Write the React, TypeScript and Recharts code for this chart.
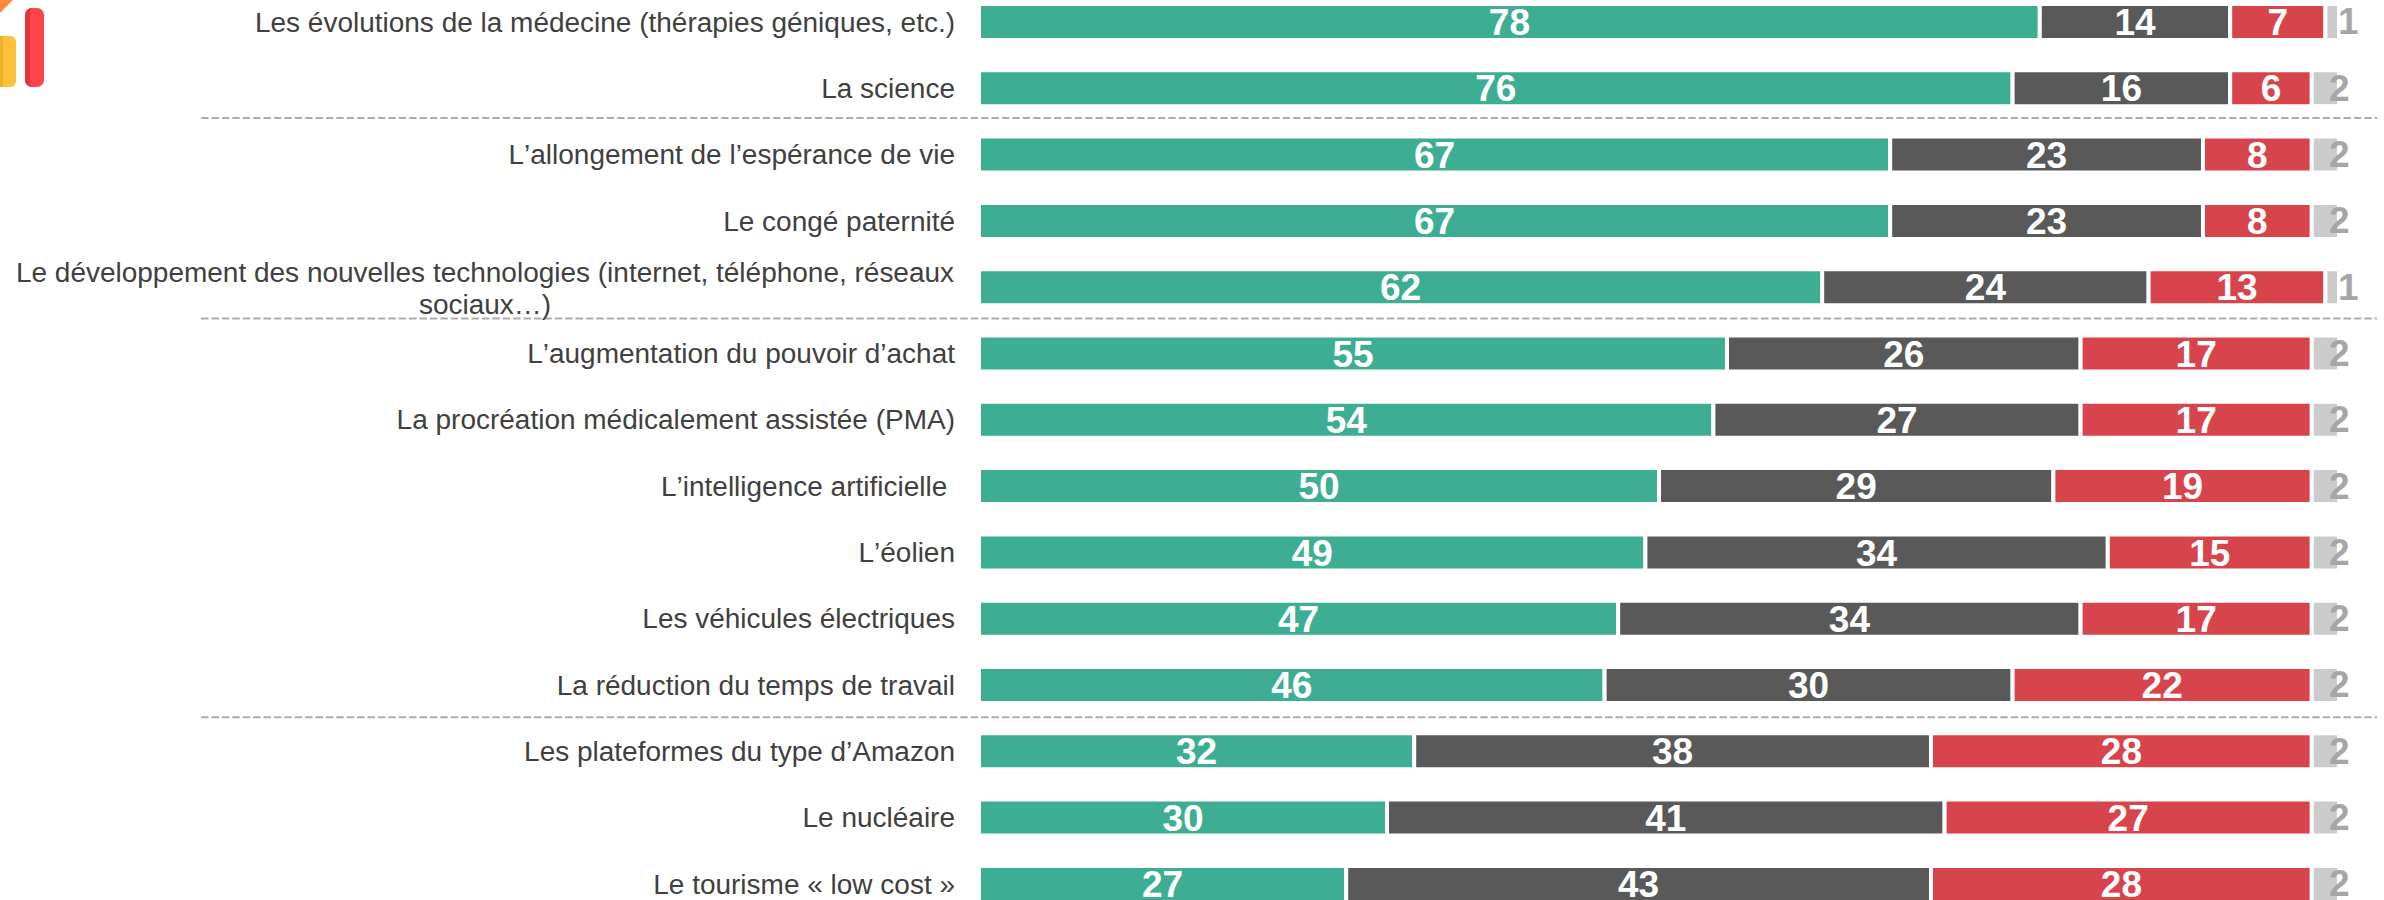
import { Bar, BarChart, LabelList, ReferenceLine, XAxis, YAxis } from "recharts";

const categories = [
  "Les évolutions de la médecine (thérapies géniques, etc.)",
  "La science",
  "L’allongement de l’espérance de vie",
  "Le congé paternité",
  "Le développement des nouvelles technologies (internet, téléphone, réseaux sociaux…)",
  "L’augmentation du pouvoir d’achat",
  "La procréation médicalement assistée (PMA)",
  "L’intelligence artificielle ",
  "L’éolien",
  "Les véhicules électriques",
  "La réduction du temps de travail",
  "Les plateformes du type d’Amazon",
  "Le nucléaire",
  "Le tourisme « low cost »",
];
const positive = [78, 76, 67, 67, 62, 55, 54, 50, 49, 47, 46, 32, 30, 27];
const neutral = [14, 16, 23, 23, 24, 26, 27, 29, 34, 34, 30, 38, 41, 43];
const negative = [7, 6, 8, 8, 13, 17, 17, 19, 15, 17, 22, 28, 27, 28];
const noAnswer = [1, 2, 2, 2, 1, 2, 2, 2, 2, 2, 2, 2, 2, 2];

// groups are separated after these rows
const separatorRows = ["La science", categories[4], categories[10]];

const rows = categories.map((name, i) => ({
  name,
  positive: positive[i],
  neutral: neutral[i],
  negative: negative[i],
  noAnswer: noAnswer[i],
}));

const FONT = '"Liberation Sans", Arial, sans-serif';
const MAX_LINE = 76;

function wrapLabel(label: string) {
  const lines: string[] = [];
  let line = "";
  for (const word of label.split(" ")) {
    const next = line ? line + " " + word : word;
    if (next.length > MAX_LINE) {
      lines.push(line);
      line = word;
    } else {
      line = next;
    }
  }
  lines.push(line);
  return lines;
}

function CategoryTick({ x, y, payload }: any) {
  const lines = wrapLabel(payload.value);
  const common = { fontFamily: FONT, fontSize: 28, fill: "#404040", dominantBaseline: "central" as const };
  if (lines.length === 1) {
    return (
      <text x={x} y={y} textAnchor="end" xmlSpace="preserve" style={{ whiteSpace: "pre", fontKerning: "none" }} {...common}>
        {lines[0]}
      </text>
    );
  }
  return (
    <text x={x - 470} y={y} textAnchor="middle" style={{ fontKerning: "none" }} {...common}>
      {lines.map((l, i) => (
        <tspan key={i} x={x - 470} y={y - 15 + i * 32}>
          {l}
        </tspan>
      ))}
    </text>
  );
}

function OutsideLabel({ x, y, width, height, value }: any) {
  return (
    <text
      x={x + width / 2 + 18 - 2 * value}
      y={y + height / 2}
      textAnchor="middle"
      dominantBaseline="central"
      fontFamily={FONT}
      fontSize={37}
      fontWeight="bold"
      fill="#A6A6A6"
    >
      {value}
    </text>
  );
}

const whiteLabel = { fill: "#ffffff", fontFamily: FONT, fontSize: 37, fontWeight: "bold" };

// the lines sit a little above the band edge in the original
function separatorShape(nudge: number) {
  return ({ x1, x2, y1, y2 }: any) => (
    <line
      x1={x1}
      x2={x2}
      y1={y1 + nudge}
      y2={y2 + nudge}
      stroke="#AFABAB"
      strokeWidth={2}
      strokeDasharray="7.5 2.9"
    />
  );
}
const separatorNudges = [-3.5, -2, -1];

function CornerIcon() {
  return (
    <svg width={50} height={95} style={{ position: "absolute", left: 0, top: 0 }}>
      <path d="M0 0 L13 0 L0 13 Z" fill="#FF8A3C" />
      <path d="M0 36 H10 a6 6 0 0 1 6 6 V81 a6 6 0 0 1 -6 6 H0 Z" fill="#FFC03A" />
      <path d="M0 36 H3 V87 H0 Z" fill="#EFB030" />
      <rect x={25} y={8} width={19} height={79} rx={7} fill="#FF444A" />
      <path d="M32 8 a7 7 0 0 0 -7 7 V80 a7 7 0 0 0 7 7 a7 7 0 0 1 -2 -7 V15 a7 7 0 0 1 2 -7 Z" fill="#E53238" />
    </svg>
  );
}

export default function App() {
  return (
    <div style={{ position: "absolute", left: 0, top: 0, width: 2384, height: 900, overflow: "hidden", background: "#fff" }}>
      <CornerIcon />
      <div style={{ position: "absolute", left: 0, top: -11 }}>
        <BarChart
          width={2384}
          height={928.2}
          data={rows}
          layout="vertical"
          barSize={36}
          margin={{ top: 0, right: 45, bottom: 0, left: 0 }}
        >
          <XAxis type="number" domain={[0, 100]} hide />
          <YAxis
            type="category"
            dataKey="name"
            width={979}
            interval={0}
            axisLine={false}
            tickLine={false}
            tickSize={0}
            tickMargin={24}
            tick={<CategoryTick />}
          />
          <Bar dataKey="positive" stackId="a" fill="#3DAE94" stroke="#fff" strokeWidth={4} isAnimationActive={false}>
            <LabelList dataKey="positive" position="center" style={whiteLabel} />
          </Bar>
          <Bar dataKey="neutral" stackId="a" fill="#595959" stroke="#fff" strokeWidth={4} isAnimationActive={false}>
            <LabelList dataKey="neutral" position="center" style={whiteLabel} />
          </Bar>
          <Bar dataKey="negative" stackId="a" fill="#D8444B" stroke="#fff" strokeWidth={4} isAnimationActive={false}>
            <LabelList dataKey="negative" position="center" style={whiteLabel} />
          </Bar>
          <Bar dataKey="noAnswer" stackId="a" fill="#CCCBCB" stroke="#fff" strokeWidth={4} isAnimationActive={false}>
            <LabelList dataKey="noAnswer" content={<OutsideLabel />} />
          </Bar>
          {separatorRows.map((row, i) => (
            <ReferenceLine
              key={row}
              ifOverflow="visible"
              position="end"
              segment={[
                { x: -57.2, y: row },
                { x: 102.8, y: row },
              ]}
              shape={separatorShape(separatorNudges[i])}
            />
          ))}
        </BarChart>
      </div>
    </div>
  );
}
